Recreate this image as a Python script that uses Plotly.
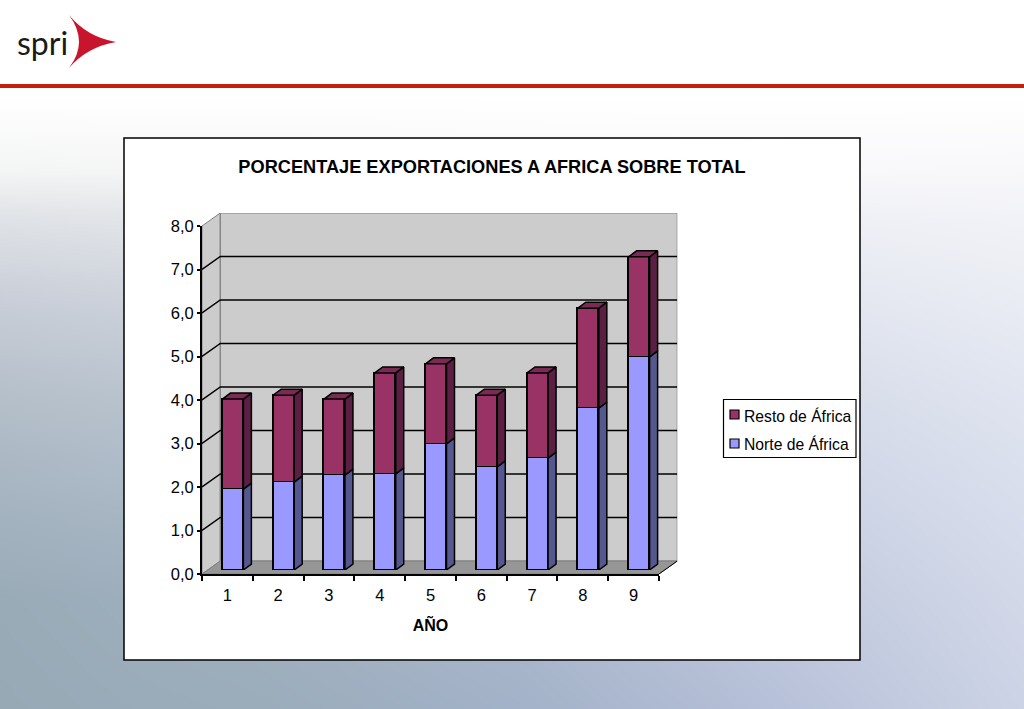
import base64, struct, zlib
import numpy as np
import plotly.graph_objects as go

W, H = 1024, 709

# ---- data ----
CATEGORIES = ["1", "2", "3", "4", "5", "6", "7", "8", "9"]
NORTE = [1.86, 2.02, 2.18, 2.21, 2.90, 2.37, 2.57, 3.72, 4.90]
RESTO = [2.07, 2.00, 1.75, 2.32, 1.84, 1.65, 1.96, 2.30, 2.30]
Y_TICKS = [0, 1, 2, 3, 4, 5, 6, 7, 8]
TITLE = "PORCENTAJE EXPORTACIONES A AFRICA SOBRE TOTAL"
X_TITLE = "AÑO"
NAME_NORTE = "Norte de África"
NAME_RESTO = "Resto de África"

# background colour samples (rows top to bottom, columns left to right)
BG_Y = [0, 95, 170, 220, 300, 400, 500, 600, 709]
BG_X = [0, 256, 512, 768, 1024]
BG = [
    ["#ffffff", "#ffffff", "#ffffff", "#ffffff", "#ffffff"],
    ["#ffffff", "#ffffff", "#ffffff", "#ffffff", "#ffffff"],
    ["#f4f5f5", "#f6f6f7", "#f8f8fa", "#f9f9fb", "#f8f8fb"],
    ["#dfe2e6", "#e4e6ea", "#eaecf0", "#eeeff5", "#f1f2f7"],
    ["#c9ced8", "#d0d5de", "#d8dce6", "#e2e5ef", "#e9ecf3"],
    ["#b4bfc9", "#bcc6d2", "#c6cfdc", "#d5dae8", "#e0e4f0"],
    ["#a6b4c1", "#aebbca", "#b8c4d5", "#cad1e3", "#d8deec"],
    ["#9aabb8", "#a0b0bf", "#abb8cc", "#bfc8dc", "#d2d8e8"],
    ["#98a9b6", "#9bacbb", "#a3b2c8", "#b6c0d8", "#ccd3e6"],
]


def png_uri(rows):
    raw = b"".join(b"\x00" + r.tobytes() for r in rows)
    h, w = rows.shape[:2]
    def chunk(t, d):
        return struct.pack(">I", len(d)) + t + d + struct.pack(">I", zlib.crc32(t + d))
    data = (b"\x89PNG\r\n\x1a\n" + chunk(b"IHDR", struct.pack(">IIBBBBB", w, h, 8, 2, 0, 0, 0))
            + chunk(b"IDAT", zlib.compress(raw)) + chunk(b"IEND", b""))
    return "data:image/png;base64," + base64.b64encode(data).decode()


def background():
    arr = np.array([[[int(c[i:i + 2], 16) for i in (1, 3, 5)] for c in row] for row in BG], dtype=float)
    xs = np.linspace(0, W, 257)
    ys = np.linspace(0, H, 355)
    by_x = np.stack([[np.interp(xs, BG_X, arr[r, :, k]) for k in range(3)] for r in range(len(BG_Y))])
    out = np.stack([[np.interp(ys, BG_Y, by_x[:, k, i]) for i in range(len(xs))] for k in range(3)], axis=-1)
    return png_uri(np.round(out.transpose(1, 0, 2)).astype(np.uint8))


def fx(px):
    return px / W


def fy(px):
    return 1 - px / H


# ---- plot geometry in pixels ----
AX_L, AX_R, AX_B, AX_T = 202, 659, 574, 226
DEPTH_X, DEPTH_Y = 18.3, 13
BAR_DX, BAR_DY = 5.5, 4
SIDE_X, SIDE_Y = 8, 6
UX = 9 / (AX_R - AX_L)
UY = 8 / (AX_B - AX_T)
BAR_W = 21 * UX
x0 = 0.5
n_x_end = 9.5

GRID = "#000000"
WALL = "#cccccc"
FLOOR = "#969696"
EDGE = "#808080"
C_NORTE, C_NORTE_S = "#9999ff", "#55588f"
C_RESTO, C_RESTO_S, C_RESTO_T = "#993366", "#5a1f42", "#7b2a53"
FONT = "Liberation Sans, Arial, sans-serif"

fig = go.Figure()

dx, dy = DEPTH_X * UX, DEPTH_Y * UY
kw_w = dict(xaxis="x", yaxis="y", mode="lines", hoverinfo="skip", showlegend=False, cliponaxis=False)
# left wall
fig.add_trace(go.Scatter(x=[x0, x0 + dx, x0 + dx, x0, x0], y=[0, dy, 8 + dy, 8, 0], fill="toself",
                         fillcolor=WALL, line=dict(color=EDGE, width=1), **kw_w))
# back wall
fig.add_trace(go.Scatter(x=[x0 + dx, n_x_end + dx, n_x_end + dx, x0 + dx, x0 + dx], y=[dy, dy, 8 + dy, 8 + dy, dy],
                         fill="toself", fillcolor=WALL, line=dict(color=EDGE, width=1.2), **kw_w))
# floor
fig.add_trace(go.Scatter(x=[x0, n_x_end, n_x_end + dx, x0 + dx, x0], y=[0, 0, dy, dy, 0], fill="toself",
                         fillcolor=FLOOR, line=dict(color=EDGE, width=1), **kw_w))
# grid lines
gx, gy = [], []
for t in Y_TICKS[1:-1]:
    gx += [x0, x0 + dx, n_x_end + dx, None]
    gy += [t, t + dy, t + dy, None]
fig.add_trace(go.Scatter(x=gx, y=gy, line=dict(color=GRID, width=1.5), **kw_w))
# floor right edge
fig.add_trace(go.Scatter(x=[n_x_end, n_x_end + dx], y=[0, dy], line=dict(color="#000000", width=1), **kw_w))

# bars
pos = list(range(1, len(CATEGORIES) + 1))
bar_line = dict(color="#000000", width=1.5)
fig.add_trace(go.Bar(x=pos, y=NORTE, name=NAME_NORTE, width=BAR_W, marker=dict(color=C_NORTE, line=bar_line),
                     xaxis="x2", yaxis="y2", cliponaxis=False, showlegend=False))
fig.add_trace(go.Bar(x=pos, y=RESTO, name=NAME_RESTO, width=BAR_W, marker=dict(color=C_RESTO, line=bar_line),
                     xaxis="x2", yaxis="y2", cliponaxis=False, showlegend=False))

sx, sy = SIDE_X * UX, SIDE_Y * UY
TOTAL = [a + b for a, b in zip(NORTE, RESTO)]


def side_polys(bottoms, tops):
    xs, ys = [], []
    for p, b, t in zip(pos, bottoms, tops):
        r = p + BAR_W / 2
        xs += [r, r + sx, r + sx, r, r, None]
        ys += [b, b + sy, t + sy, t, b, None]
    return xs, ys


kw_b = dict(xaxis="x2", yaxis="y2", mode="lines", fill="toself", hoverinfo="skip", showlegend=False, cliponaxis=False,
            line=dict(color="#000000", width=1.5))
xs, ys = side_polys([0] * len(NORTE), NORTE)
fig.add_trace(go.Scatter(x=xs, y=ys, fillcolor=C_NORTE_S, **kw_b))
xs, ys = side_polys(NORTE, TOTAL)
fig.add_trace(go.Scatter(x=xs, y=ys, fillcolor=C_RESTO_S, **kw_b))
tx, ty = [], []
for p, t in zip(pos, TOTAL):
    l, r = p - BAR_W / 2, p + BAR_W / 2
    tx += [l, r, r + sx, l + sx, l, None]
    ty += [t, t, t + sy, t + sy, t, None]
fig.add_trace(go.Scatter(x=tx, y=ty, fillcolor=C_RESTO_T, **kw_b))

# tick axes (drawn last)
fig.add_trace(go.Scatter(x=CATEGORIES, y=[None] * len(CATEGORIES), xaxis="x3", yaxis="y3", mode="lines",
                         hoverinfo="skip", showlegend=False))

hidden = dict(visible=False, fixedrange=True, automargin=False)
tick_font = dict(family=FONT, size=16.5, color="#000000")
shapes = [
    dict(type="rect", xref="paper", yref="paper", x0=fx(124), x1=fx(860), y0=fy(660), y1=fy(138),
         fillcolor="#ffffff", line=dict(color="#000000", width=1.5), layer="below"),
    dict(type="rect", xref="paper", yref="paper", x0=0, x1=1, y0=fy(88), y1=fy(84),
         fillcolor="#c71f0c", line=dict(width=0), layer="below"),
    # logo mark
    dict(type="path", xref="paper", yref="paper", layer="below", fillcolor="#c8142c", line=dict(width=0),
         path=(f"M{fx(69)},{fy(15)} Q{fx(87)},{fy(37)} {fx(116)},{fy(42)} "
               f"Q{fx(87)},{fy(47)} {fx(69)},{fy(68)} Q{fx(89)},{fy(42)} {fx(69)},{fy(15)} Z")),
    # legend box
    dict(type="rect", xref="paper", yref="paper", x0=fx(723.5), x1=fx(856), y0=fy(457.5), y1=fy(399.5),
         fillcolor="#ffffff", line=dict(color="#000000", width=1.2)),
    dict(type="rect", xref="paper", yref="paper", x0=fx(730), x1=fx(739), y0=fy(419), y1=fy(410),
         fillcolor=C_RESTO, line=dict(color="#000000", width=1.2)),
    dict(type="rect", xref="paper", yref="paper", x0=fx(730), x1=fx(739), y0=fy(448), y1=fy(439),
         fillcolor=C_NORTE, line=dict(color="#000000", width=1.2)),
]
annots = [
    dict(text=NAME_RESTO, xref="paper", yref="paper", x=fx(742), y=fy(415.5), xanchor="left", yanchor="middle",
         showarrow=False, font=dict(family=FONT, size=15.7, color="#000000")),
    dict(text=NAME_NORTE, xref="paper", yref="paper", x=fx(742), y=fy(444), xanchor="left", yanchor="middle",
         showarrow=False, font=dict(family=FONT, size=15.7, color="#000000")),
    dict(text="spri", xref="paper", yref="paper", x=fx(15), y=fy(42), xanchor="left", yanchor="middle",
         showarrow=False, font=dict(family="Lato, sans-serif", size=32, color="#1a1a1a")),
]

fig.update_layout(
    template="none",
    width=W, height=H, margin=dict(l=0, r=0, t=0, b=0, pad=0), autosize=False,
    paper_bgcolor="#ffffff", plot_bgcolor="rgba(0,0,0,0)",
    separators=",.", barmode="stack", bargap=0, showlegend=False,
    title=dict(text=f"<b>{TITLE}</b>", x=fx(492), y=fy(167), xref="paper", yref="paper", xanchor="center",
               yanchor="middle", automargin=False, font=dict(family=FONT, size=18.2, color="#000000")),
    images=[dict(source=background(), xref="paper", yref="paper", x=0, y=1, sizex=1, sizey=1, sizing="stretch",
                 xanchor="left", yanchor="top", layer="below")],
    shapes=shapes, annotations=annots,
    # walls
    xaxis=dict(domain=[fx(AX_L), fx(AX_R + DEPTH_X)], range=[x0, n_x_end + dx], **hidden),
    yaxis=dict(domain=[fy(AX_B), fy(AX_T - DEPTH_Y)], range=[0, 8 + dy], **hidden),
    # bars
    xaxis2=dict(domain=[fx(AX_L + BAR_DX), fx(AX_R + BAR_DX)], range=[x0, n_x_end], anchor="y2", **hidden),
    yaxis2=dict(domain=[fy(AX_B - BAR_DY), fy(AX_T - BAR_DY)], range=[0, 8], anchor="x2", **hidden),
    # visible ticks
    xaxis3=dict(domain=[fx(AX_L), fx(AX_R)], range=[-0.5, 8.5], type="category", anchor="y3", tickson="boundaries",
                ticks="outside", ticklen=5, tickwidth=1.5, tickcolor="#000000", showgrid=False, zeroline=False,
                showline=True, linecolor="#000000", linewidth=2, tickfont=tick_font, fixedrange=True,
                automargin=False, ticklabelstandoff=5,
                title=dict(text=f"<b>{X_TITLE}</b>", standoff=17, font=dict(family=FONT, size=16, color="#000000"))),
    yaxis3=dict(domain=[fy(AX_B), fy(AX_T)], range=[0, 8], anchor="x3", tickvals=Y_TICKS, tickformat=".1f",
                ticks="outside", ticklen=3, tickwidth=1.5, tickcolor="#000000", showgrid=False, zeroline=False,
                showline=True, linecolor="#000000", linewidth=2, tickfont=tick_font, fixedrange=True,
                automargin=False),
)

fig.write_html("out.html", post_script="document.body.style.margin='0';document.documentElement.style.overflow='hidden';",
               config=dict(displayModeBar=False))
